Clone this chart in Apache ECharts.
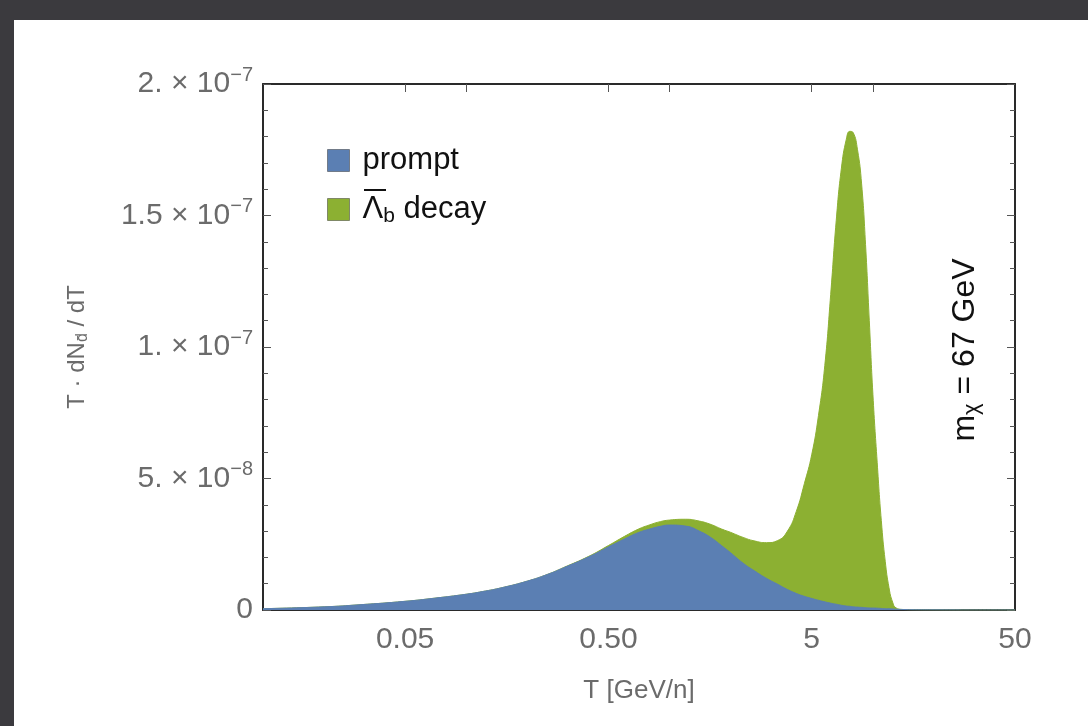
<!DOCTYPE html>
<html>
<head>
<meta charset="utf-8">
<script src="https://cdn.jsdelivr.net/npm/echarts@6/dist/echarts.min.js"></script>
<style>
html,body{margin:0;padding:0;background:#3b3a3e;}
#chart{width:1088px;height:726px;}
</style>
</head>
<body>
<div id="chart"></div>
<script>
// ---- data ----
const tValues = [0.01, 0.02, 0.03, 0.05, 0.07, 0.1, 0.12, 0.15, 0.2, 0.25, 0.3, 0.4, 0.5, 0.6, 0.7, 0.8, 0.9, 1.0,
  1.2, 1.4, 1.6, 1.8, 2.0, 2.3, 2.6, 3.0, 3.4, 3.8, 4.2, 4.6, 5.0, 5.4, 5.8, 6.2, 6.6, 7.0, 7.4, 7.7,
  8.0, 8.4, 8.8, 9.2, 9.6, 10, 10.5, 11, 11.5, 12, 12.5, 13, 14, 16, 20, 30, 50];
// prompt component, units of 1e-8
const promptValues = [0.05, 0.12, 0.2, 0.33, 0.45, 0.6, 0.7, 0.85, 1.1, 1.35, 1.6, 2.02, 2.4, 2.7, 2.94, 3.08, 3.18, 3.23,
  3.19, 3.0, 2.75, 2.45, 2.17, 1.78, 1.5, 1.2, 0.98, 0.78, 0.63, 0.52, 0.44, 0.37, 0.31, 0.26, 0.22, 0.18, 0.15, 0.14,
  0.12, 0.11, 0.1, 0.09, 0.08, 0.075, 0.07, 0.06, 0.05, 0.045, 0.04, 0.03, 0.02, 0.01, 0.005, 0, 0];
// top of the stacked (prompt + Lambda_b decay) area, units of 1e-8
const decayStackTop = [0.05, 0.12, 0.2, 0.33, 0.45, 0.6, 0.7, 0.85, 1.1, 1.35, 1.61, 2.04, 2.45, 2.8, 3.07, 3.24, 3.36, 3.42,
  3.45, 3.38, 3.25, 3.08, 2.95, 2.76, 2.63, 2.56, 2.64, 3.0, 3.75, 4.8, 5.9, 7.4, 9.3, 12.0, 14.8, 16.8, 17.9, 18.2,
  18.15, 17.5, 16.2, 13.9, 11.0, 8.2, 5.6, 3.4, 1.85, 0.85, 0.3, 0.08, 0.02, 0.01, 0.005, 0, 0];
const yScale = 1e-8;

const xTickValues = [0.05, 0.1, 0.5, 1, 5, 10];
const xLabelValues = [0.05, 0.5, 5, 50];
const xLabelTexts = ['0.05', '0.50', '5', '50'];
const yLabelValues = [0, 5e-8, 1e-7, 1.5e-7, 2e-7];
const yLabelMantissa = ['0', '5.', '1.', '1.5', '2.'];
const yLabelExponent = ['', '\u22128', '\u22127', '\u22127', '\u22127'];

const seriesNames = ['prompt', 'decay'];
const colors = ['#5b7fb3', '#8cb032'];

// ---- chart ----
const chart = echarts.init(document.getElementById('chart'));
const font = '"Liberation Sans", Arial, Helvetica, sans-serif';
const tickGray = '#6b6b6b';

function xLabelFmt(v) {
  for (let i = 0; i < xLabelValues.length; i++) {
    if (Math.abs(v - xLabelValues[i]) < xLabelValues[i] * 1e-6) return xLabelTexts[i];
  }
  return '';
}
function yLabelFmt(v) {
  for (let i = 0; i < yLabelValues.length; i++) {
    if (Math.abs(v - yLabelValues[i]) < 1e-12) {
      if (yLabelExponent[i] === '') return '{m|' + yLabelMantissa[i] + '}';
      return '{m|' + yLabelMantissa[i] + ' \u00d7 10}{e|' + yLabelExponent[i] + '}';
    }
  }
  return '';
}

const frameLine = { show: true, onZero: false, lineStyle: { color: '#2a2a2a', width: 2 } };
const tickStyle = { color: '#555', width: 1 };

const xBase = {
  type: 'log', logBase: 10, min: 0.01, max: 50,
  axisLine: frameLine,
  splitLine: { show: false },
  minorTick: { show: false },
  minorSplitLine: { show: false }
};
const yBase = {
  type: 'value', min: 0, max: 2e-7, interval: 5e-8,
  axisLine: frameLine,
  splitLine: { show: false },
  minorTick: { show: true, splitNumber: 5, length: 5, lineStyle: tickStyle },
  minorSplitLine: { show: false },
  axisTick: { show: true, inside: true, length: 8, lineStyle: tickStyle }
};

const option = {
  backgroundColor: '#3b3a3e',
  animation: false,
  textStyle: { fontFamily: font },
  graphic: {
    elements: [
      { type: 'rect', z: -100, shape: { x: 14, y: 20, width: 1074, height: 706 }, style: { fill: '#ffffff' }, silent: true },
      // overline of the anti-Lambda symbol in the legend
      { type: 'line', z: 100, shape: { x1: 364, y1: 190, x2: 386, y2: 190 }, style: { stroke: '#111', lineWidth: 2 }, silent: true },
      {
        type: 'text', z: 100, x: 965, y: 350, rotation: Math.PI / 2,
        style: {
          text: '{a|m}{s|\u03c7}{a| = 67 GeV}',
          fill: '#111', font: '32px ' + font,
          align: 'center', verticalAlign: 'middle',
          rich: {
            a: { fontSize: 32, fill: '#111', fontFamily: font },
            s: { fontSize: 22, fill: '#111', fontFamily: font, padding: [14, 0, 0, 0] }
          }
        }
      }
    ]
  },
  grid: { left: 263, top: 84, width: 752, height: 526, containLabel: false },
  legend: {
    data: seriesNames,
    orient: 'vertical', left: 322, top: 140,
    icon: 'rect', itemWidth: 22, itemHeight: 22, itemGap: 18,
    itemStyle: { borderWidth: 1, borderColor: 'rgba(40,40,40,0.45)' },
    selectedMode: false,
    formatter: function (name) {
      if (name === 'decay') return '{l|\u039b}{s|b}{l| decay}';
      return '{l|prompt}';
    },
    textStyle: {
      color: '#111', fontSize: 31, padding: [0, 0, 0, 8],
      rich: {
        l: { fontSize: 31, color: '#111', fontFamily: font },
        s: { fontSize: 21, color: '#111', fontFamily: font, padding: [14, 0, 0, 0] }
      }
    }
  },
  xAxis: [
    Object.assign({}, xBase, {
      position: 'bottom',
      name: 'T [GeV/n]', nameLocation: 'middle', nameGap: 68,
      nameTextStyle: { fontSize: 26, color: tickGray, fontFamily: font },
      axisTick: { show: true, inside: true, length: 8, lineStyle: tickStyle, customValues: xTickValues },
      axisLabel: { show: true, customValues: xLabelValues, formatter: xLabelFmt, fontSize: 30, color: tickGray, margin: 15, fontFamily: font }
    }),
    Object.assign({}, xBase, {
      position: 'top',
      axisTick: { show: true, inside: true, length: 8, lineStyle: tickStyle, customValues: xTickValues },
      axisLabel: { show: false }
    })
  ],
  yAxis: [
    Object.assign({}, yBase, {
      position: 'left',
      name: '{a|T \u00b7 dN}{s|d\u0304}{a| / dT}', nameLocation: 'middle', nameGap: 172, nameRotate: 90,
      nameTextStyle: {
        color: tickGray, fontFamily: font,
        rich: {
          a: { fontSize: 24, color: tickGray, fontFamily: font },
          s: { fontSize: 16, color: tickGray, fontFamily: font, padding: [12, 0, 0, 0] }
        }
      },
      axisLabel: {
        show: true, formatter: yLabelFmt, margin: 10, color: tickGray,
        rich: {
          m: { fontSize: 30, color: tickGray, fontFamily: font },
          e: { fontSize: 20, color: tickGray, fontFamily: font, padding: [0, 0, 18, 0] }
        }
      }
    }),
    Object.assign({}, yBase, {
      position: 'right',
      axisLabel: { show: false }
    })
  ],
  series: [
    {
      name: 'decay', type: 'line', xAxisIndex: 0, yAxisIndex: 0,
      data: tValues.map((t, i) => [t, decayStackTop[i] * yScale]),
      smooth: 0.5, showSymbol: false, symbol: 'none',
      lineStyle: { color: colors[1], width: 1 },
      itemStyle: { color: colors[1] },
      areaStyle: { color: colors[1], opacity: 1, origin: 'start' },
      z: 2
    },
    {
      name: 'prompt', type: 'line', xAxisIndex: 0, yAxisIndex: 0,
      data: tValues.map((t, i) => [t, promptValues[i] * yScale]),
      smooth: 0.5, showSymbol: false, symbol: 'none',
      lineStyle: { color: colors[0], width: 1 },
      itemStyle: { color: colors[0] },
      areaStyle: { color: colors[0], opacity: 1, origin: 'start' },
      z: 3
    }
  ]
};
chart.setOption(option);
</script>
</body>
</html>
